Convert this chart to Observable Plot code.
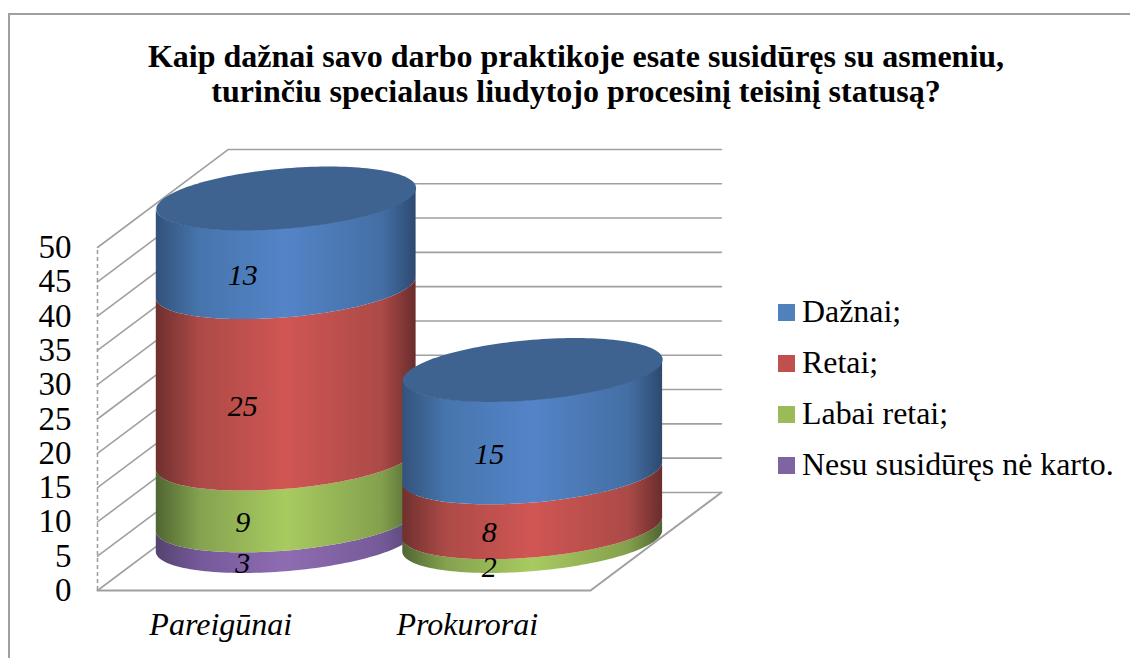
<!DOCTYPE html>
<html><head><meta charset="utf-8">
<script src="https://cdn.jsdelivr.net/npm/d3@7"></script>
<script src="https://cdn.jsdelivr.net/npm/@observablehq/plot@0.6"></script>
<style>
html,body{margin:0;padding:0;background:#fff;overflow:hidden}
#wrap{position:relative;width:1130px;height:658px;font-family:"Liberation Serif",serif;color:#000}
#frame{position:absolute;left:8px;top:13px;right:-5px;bottom:-5px;border:2px solid #a0a0a0}
#title{position:absolute;left:0;top:39px;width:1152px;text-align:center;font-weight:bold;font-size:32px;line-height:34.5px}
#chart{position:absolute;left:0;top:130px}
#legend{position:absolute;left:778px;top:0}
.row{position:absolute;left:0;white-space:nowrap;font-size:31.9px;line-height:34px;display:flex;align-items:center;height:34px}
.sw{width:17px;height:17px;margin-right:7px;display:inline-block}
</style></head><body>
<div id="wrap"><div id="frame"></div>
<div id="title">Kaip dažnai savo darbo praktikoje esate susidūręs su asmeniu,<br>turinčiu specialaus liudytojo procesinį teisinį statusą?</div>
<div id="chart"></div><div id="legend"></div></div>
<script>
const categories = ["Pareigūnai", "Prokurorai"];
const seriesNames = ["Dažnai;", "Retai;", "Labai retai;", "Nesu susidūręs nė karto."];
const dazhnai = [13, 15];
const retai = [25, 8];
const labaiRetai = [9, 2];
const nesu = [3, 0];
const valueTicks = [0,5,10,15,20,25,30,35,40,45,50];
const colors = ["#4f81bd", "#c0504d", "#9bbb59", "#8064a2"];
const gradients = [
  ["#33527b","#4675ad","#5484c8","#446fa5","#2d4a70"],
  ["#6f302e","#ad4a47","#d05653","#ab4a47","#6a2d2c"],
  ["#4f6632","#85a24f","#a8cb60","#84a04d","#4f6632"],
  ["#55436f","#75599a","#8f6cb2","#755a98","#55436f"]
];
const capColor = "#3e6391";

// oblique 3D model of the chart box: u = category axis, v = value axis, d = depth (0 front, 1 back)
const shearU = 0.531, shearV = 14.29, radiusU = 0.527, tiltV = 1.53, minorV = 4.4;
const project = (u, v, d = 0) => ({x: u + d * shearU, y: v + d * shearV});
const arc = (c, v, from, to, n = 80) => d3.range(n + 1).map(i => {
  const t = from + (to - from) * i / n, p = project(c, v, 0.5);
  return {x: p.x + radiusU * Math.cos(t), y: p.y + tiltV * Math.cos(t) - minorV * Math.sin(t)};
});

const stackOrder = [nesu, labaiRetai, retai, dazhnai];   // bottom to top
const colourOrder = [3, 2, 1, 0];

const wall = valueTicks.flatMap(v => [project(0,v,0), project(0,v,1), project(2,v,1)].map(p => ({...p, z:v})));
const floor = [project(0,0,0), project(2,0,0), project(2,0,1)];

const defs = () => {
  const s = d3.create("svg:defs");
  gradients.forEach((g,i) => {
    const lg = s.append("linearGradient").attr("id","cyl"+i).attr("x1",0).attr("x2",1).attr("y1",0).attr("y2",0);
    [0,.17,.5,.87,1].forEach((o,j) => lg.append("stop").attr("offset",o).attr("stop-color",g[j]));
  });
  return s.node();
};

const cylinderMarks = [], labelRows = [];
categories.forEach((cat, c) => {
  let base = 0;
  const uc = c + 0.5;
  stackOrder.forEach((vals, k) => {
    const val = vals[c];
    if (val > 0) {
      const lo = arc(uc, base, Math.PI, 0), hi = arc(uc, base + val, Math.PI, 0);
      const pts = lo.map((p,i) => ({x:p.x, y1:p.y, y2:hi[i].y}));
      cylinderMarks.push(Plot.area(pts, {x1:"x", y1:"y1", y2:"y2", fill:`url(#cyl${colourOrder[k]})`}));
      const lp = project(uc, base + val/2, 0.168);
      labelRows.push({...lp, t:String(val), c});
    }
    base += val;
  });
  cylinderMarks.push(Plot.line(arc(uc, base, 0, 2*Math.PI, 160), {x:"x", y:"y", fill:capColor, stroke:"none"}));
});

const chart = Plot.plot({
  width:1130, height:528,
  marginLeft:97, marginRight:540, marginTop:117, marginBottom:68,
  x:{domain:[0,2], axis:null}, y:{domain:[0,50], axis:null},
  style:{fontFamily:"'Liberation Serif',serif", fontSize:"30px", background:"transparent", overflow:"visible", color:"#000"},
  marks:[
    defs,
    Plot.line(wall, {x:"x", y:"y", z:"z", stroke:"#a0a0a0", strokeWidth:1.6}),
    Plot.line(floor, {x:"x", y:"y", stroke:"#a0a0a0", strokeWidth:2}),
    Plot.ruleX([0], {y1:0, y2:50, stroke:"#a0a0a0", strokeWidth:1.6, strokeDasharray:"4 3"}),
    Plot.axisY(valueTicks, {anchor:"left", tickSize:0, tickPadding:26, label:null, fontSize:33, fill:"#000"}),
    Plot.axisX([0.5,1.5], {anchor:"bottom", tickSize:0, tickPadding:22, label:null, fontSize:32, fontStyle:"italic", fill:"#000", tickFormat:d => categories[d-0.5]}),
    ...cylinderMarks,
    Plot.text(labelRows, {x:"x", y:"y", text:"t", fontSize:30, fontStyle:"italic", fill:"#000"})
  ]
});
document.getElementById("chart").appendChild(chart);

const legend = document.getElementById("legend");
seriesNames.forEach((n,i) => {
  const r = document.createElement("div");
  r.className = "row"; r.style.top = (295 + i*51) + "px";
  r.innerHTML = `<span class="sw" style="background:${colors[i]}"></span>${n}`;
  legend.appendChild(r);
});
</script>
</body></html>
